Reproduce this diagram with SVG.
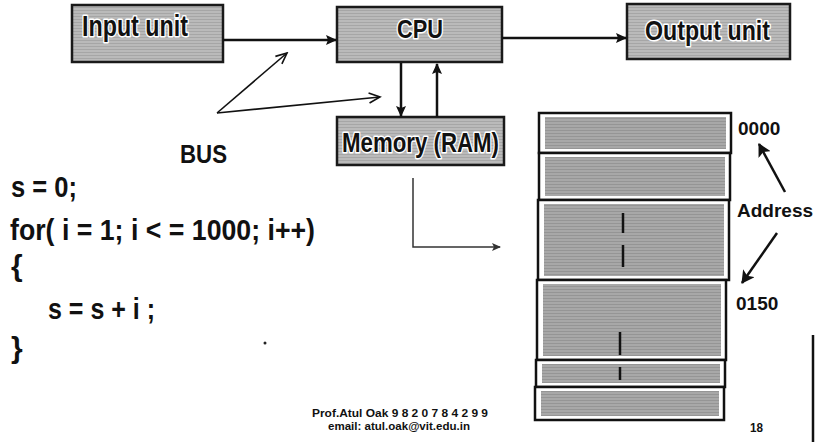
<svg xmlns="http://www.w3.org/2000/svg" width="817" height="442" viewBox="0 0 817 442">
<defs>
<pattern id="tex" width="6" height="3" patternUnits="userSpaceOnUse">
<rect width="6" height="3" fill="#bababa"/>
<rect y="1" width="6" height="1" fill="#a6a6a6"/>
</pattern>
<pattern id="tex2" width="6" height="3" patternUnits="userSpaceOnUse">
<rect width="6" height="3" fill="#a8a8a8"/>
<rect y="1" width="6" height="1" fill="#959595"/>
</pattern>
<marker id="ah" markerUnits="userSpaceOnUse" markerWidth="11" markerHeight="10" refX="10" refY="5" orient="auto">
<path d="M0,0 L11,5 L0,10 L2,5 z" fill="#111"/>
</marker>
<marker id="av" markerUnits="userSpaceOnUse" markerWidth="14" markerHeight="12" refX="12" refY="6" orient="auto">
<path d="M1,1 L12,6 L1,11" fill="none" stroke="#111" stroke-width="1.6"/>
</marker>
<marker id="ab" markerUnits="userSpaceOnUse" markerWidth="14" markerHeight="14" refX="12" refY="7" orient="auto">
<path d="M0,0 L13,7 L0,14 L3,7 z" fill="#111"/>
</marker>
<marker id="as" markerUnits="userSpaceOnUse" markerWidth="9" markerHeight="8" refX="8" refY="4" orient="auto">
<path d="M0,0 L9,4 L0,8 L2,4 z" fill="#333"/>
</marker>
</defs>
<style>
.box{fill:url(#tex);stroke:#1a1a1a;stroke-width:2.5}
.bt{font-family:"Liberation Sans",Arial,sans-serif;font-weight:bold;fill:#111;stroke:#fff;stroke-width:3;paint-order:stroke;stroke-linejoin:round}
.code{font-family:"Liberation Sans",Arial,sans-serif;font-weight:bold;font-size:30px;fill:#111}
.lab{font-family:"Liberation Sans",Arial,sans-serif;font-weight:bold;fill:#111}
.cell{fill:#fff;stroke:#111;stroke-width:2.5}
.cin{fill:url(#tex2)}
.dash{stroke:#111;stroke-width:2.5}
</style>
<rect width="817" height="442" fill="#fff"/>

<g id="input-unit">
<rect class="box" x="72" y="5" width="151" height="57"/>
<text class="bt" x="82" y="36" font-size="29" textLength="106" lengthAdjust="spacingAndGlyphs">Input unit</text>
</g>
<g id="cpu">
<rect class="box" x="337" y="7" width="165" height="55"/>
<text class="bt" x="397" y="38" font-size="26" textLength="46" lengthAdjust="spacingAndGlyphs">CPU</text>
</g>
<g id="output-unit">
<rect class="box" x="627" y="4" width="163" height="55"/>
<text class="bt" x="645" y="40" font-size="27" textLength="125" lengthAdjust="spacingAndGlyphs">Output unit</text>
</g>
<g id="memory-ram">
<rect class="box" x="337" y="117" width="167" height="48"/>
<text class="bt" x="342" y="152" font-size="28" textLength="157" lengthAdjust="spacingAndGlyphs">Memory (RAM)</text>
</g>

<g id="memory-array">
<rect class="cell" x="539" y="113" width="192" height="40"/>
<rect class="cin" x="545" y="117" width="181" height="32"/>
<rect class="cell" x="539" y="153" width="191" height="47"/>
<rect class="cin" x="545" y="157" width="180" height="39"/>
<rect class="cell" x="538" y="200" width="191" height="80"/>
<rect class="cin" x="544" y="204" width="180" height="72"/>
<rect class="cell" x="537" y="280" width="189" height="80"/>
<rect class="cin" x="543" y="284" width="178" height="72"/>
<rect class="cell" x="536" y="360" width="189" height="27"/>
<rect class="cin" x="542" y="364" width="178" height="19"/>
<rect class="cell" x="535" y="387" width="189" height="33"/>
<rect class="cin" x="541" y="391" width="178" height="25"/>
<line class="dash" x1="623" y1="213" x2="623" y2="233"/>
<line class="dash" x1="623" y1="245" x2="623" y2="267"/>
<line class="dash" x1="620" y1="332" x2="620" y2="355"/>
<line class="dash" x1="620" y1="367" x2="620" y2="380"/>
</g>

<g id="connectors" fill="none">
<line x1="223" y1="40" x2="336" y2="40" stroke="#111" stroke-width="2.5" marker-end="url(#ah)"/>
<line x1="502" y1="38" x2="626" y2="38" stroke="#111" stroke-width="2.5" marker-end="url(#ah)"/>
<line x1="401" y1="63" x2="401" y2="116" stroke="#111" stroke-width="2.5" marker-end="url(#ah)"/>
<line x1="437" y1="117" x2="437" y2="64" stroke="#111" stroke-width="2.5" marker-end="url(#ah)"/>
<line x1="217" y1="113" x2="287" y2="53" stroke="#111" stroke-width="1.6" marker-end="url(#av)"/>
<line x1="217" y1="113" x2="380" y2="97" stroke="#111" stroke-width="1.6" marker-end="url(#av)"/>
<polyline points="413,178 413,247 500,247" stroke="#333" stroke-width="1.5" marker-end="url(#as)"/>
<line x1="785" y1="192" x2="759" y2="144" stroke="#111" stroke-width="2.5" marker-end="url(#ab)"/>
<line x1="777" y1="233" x2="742" y2="283" stroke="#111" stroke-width="2.5" marker-end="url(#ab)"/>
</g>

<g id="labels">
<text class="lab" x="180" y="163" font-size="25" textLength="47" lengthAdjust="spacingAndGlyphs">BUS</text>
<text class="lab" x="738" y="135" font-size="19">0000</text>
<text class="lab" x="737" y="217" font-size="19">Address</text>
<text class="lab" x="736" y="310" font-size="19">0150</text>
<text class="lab" x="750" y="432" font-size="12" textLength="13" lengthAdjust="spacingAndGlyphs">18</text>
<text class="lab" x="312" y="417" font-size="11.5" textLength="176" lengthAdjust="spacingAndGlyphs">Prof.Atul Oak  9 8 2 0 7 8 4 2 9 9</text>
<text class="lab" x="328" y="430" font-size="11" textLength="142" lengthAdjust="spacingAndGlyphs">email: atul.oak@vit.edu.in</text>
</g>

<g id="code">
<text class="code" x="11" y="197" textLength="66" lengthAdjust="spacingAndGlyphs">s = 0;</text>
<text class="code" x="10" y="240" textLength="305" lengthAdjust="spacingAndGlyphs">for( i = 1; i &lt; = 1000; i++)</text>
<text class="code" x="11" y="276">{</text>
<text class="code" x="48" y="319" textLength="107" lengthAdjust="spacingAndGlyphs">s = s + i ;</text>
<text class="code" x="11" y="358">}</text>
</g>

<circle cx="265" cy="343" r="1.5" fill="#222"/>
<line x1="813" y1="335" x2="813" y2="442" stroke="#111" stroke-width="2.5"/>
</svg>
